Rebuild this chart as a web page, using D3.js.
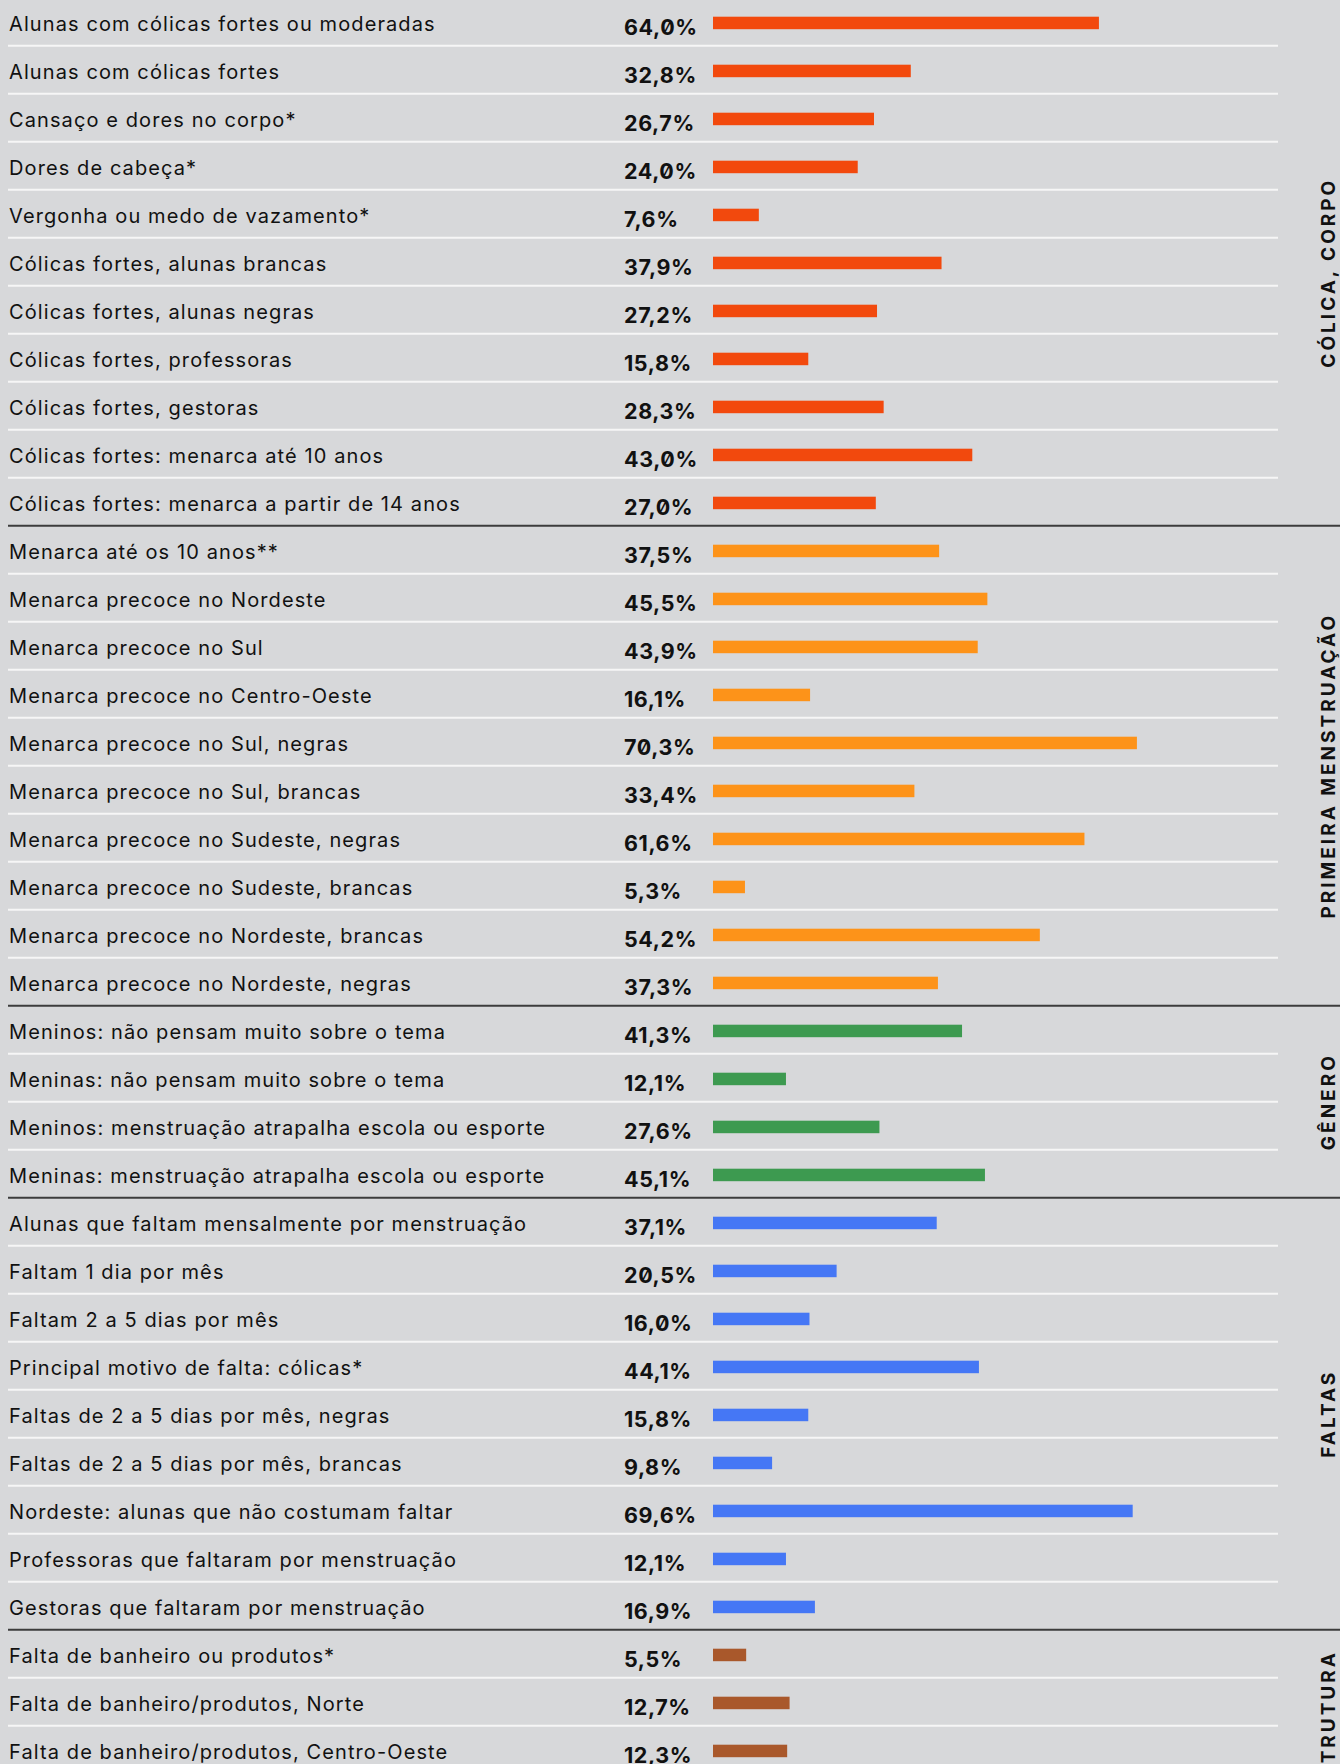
<!DOCTYPE html>
<html>
<head>
<meta charset="utf-8">
<script src="https://cdn.jsdelivr.net/npm/d3@7"></script>
<style>
  html, body { margin: 0; padding: 0; background: #d7d8da; overflow: hidden; }
  svg { display: block; }
  .label { font-family: Inter, "Noto Sans", sans-serif; font-size: 20px; fill: #111; letter-spacing: 1.1px; }
  .value { font-family: Inter, sans-serif; font-weight: 700; font-size: 21.5px; fill: #111;
           font-feature-settings: "zero" 1; letter-spacing: 0.6px; }
  .group { font-family: Inter, "Noto Sans", sans-serif; font-weight: 700; font-size: 19px;
           fill: #111; letter-spacing: 3px; }
</style>
</head>
<body>
<svg id="chart"></svg>
<script>
const groupNames = ["CÓLICA, CORPO", "PRIMEIRA MENSTRUAÇÃO", "GÊNERO", "FALTAS", "ESTRUTURA"];
const groupColors = ["#f2490d", "#fd9319", "#3d9a50", "#4577f5", "#a9582b"];

const rowLabels = [
  "Alunas com cólicas fortes ou moderadas",
  "Alunas com cólicas fortes",
  "Cansaço e dores no corpo*",
  "Dores de cabeça*",
  "Vergonha ou medo de vazamento*",
  "Cólicas fortes, alunas brancas",
  "Cólicas fortes, alunas negras",
  "Cólicas fortes, professoras",
  "Cólicas fortes, gestoras",
  "Cólicas fortes: menarca até 10 anos",
  "Cólicas fortes: menarca a partir de 14 anos",
  "Menarca até os 10 anos**",
  "Menarca precoce no Nordeste",
  "Menarca precoce no Sul",
  "Menarca precoce no Centro-Oeste",
  "Menarca precoce no Sul, negras",
  "Menarca precoce no Sul, brancas",
  "Menarca precoce no Sudeste, negras",
  "Menarca precoce no Sudeste, brancas",
  "Menarca precoce no Nordeste, brancas",
  "Menarca precoce no Nordeste, negras",
  "Meninos: não pensam muito sobre o tema",
  "Meninas: não pensam muito sobre o tema",
  "Meninos: menstruação atrapalha escola ou esporte",
  "Meninas: menstruação atrapalha escola ou esporte",
  "Alunas que faltam mensalmente por menstruação",
  "Faltam 1 dia por mês",
  "Faltam 2 a 5 dias por mês",
  "Principal motivo de falta: cólicas*",
  "Faltas de 2 a 5 dias por mês, negras",
  "Faltas de 2 a 5 dias por mês, brancas",
  "Nordeste: alunas que não costumam faltar",
  "Professoras que faltaram por menstruação",
  "Gestoras que faltaram por menstruação",
  "Falta de banheiro ou produtos*",
  "Falta de banheiro/produtos, Norte",
  "Falta de banheiro/produtos, Centro-Oeste"
];

const rowValues = [
  64.0, 32.8, 26.7, 24.0, 7.6, 37.9, 27.2, 15.8, 28.3, 43.0, 27.0,
  37.5, 45.5, 43.9, 16.1, 70.3, 33.4, 61.6, 5.3, 54.2, 37.3,
  41.3, 12.1, 27.6, 45.1,
  37.1, 20.5, 16.0, 44.1, 15.8, 9.8, 69.6, 12.1, 16.9,
  5.5, 12.7, 12.3
];

const rowGroup = [
  0, 0, 0, 0, 0, 0, 0, 0, 0, 0, 0,
  1, 1, 1, 1, 1, 1, 1, 1, 1, 1,
  2, 2, 2, 2,
  3, 3, 3, 3, 3, 3, 3, 3, 3,
  4, 4, 4
];

const width = 1340, height = 1764;
const rowH = 48, startY = -2.3;
// small vertical nudges for the side titles (first and last band run past the page edge)
const titleNudge = [11, 0, 0, 0, 20];

const svg = d3.select("#chart").attr("width", width).attr("height", height);

const rows = rowLabels.map((label, i) => ({ i, label, value: rowValues[i], group: rowGroup[i] }));

const y = d3.scaleBand()
  .domain(d3.range(rows.length))
  .range([startY, startY + rowH * rows.length])
  .paddingInner(0);

const x = d3.scaleLinear().domain([0, 100]).range([713, 1316]);

const pt = d3.formatLocale({ decimal: ",", thousands: ".", grouping: [3], currency: ["", ""] });
const fmt = v => pt.format(".1f")(v) + "%";

// row separators
svg.append("g").selectAll("line")
  .data(rows.filter(d => d.i < rows.length - 1 && rowGroup[d.i + 1] === d.group))
  .join("line")
  .attr("x1", 8).attr("x2", 1278)
  .attr("y1", d => y(d.i) + rowH).attr("y2", d => y(d.i) + rowH)
  .attr("stroke", "#f6f6f6").attr("stroke-width", 2);

// group dividers
svg.append("g").selectAll("line")
  .data(rows.filter(d => d.i < rows.length - 1 && rowGroup[d.i + 1] !== d.group))
  .join("line")
  .attr("x1", 8).attr("x2", width)
  .attr("y1", d => y(d.i) + rowH).attr("y2", d => y(d.i) + rowH)
  .attr("stroke", "#3c3c3c").attr("stroke-width", 2);

const row = svg.append("g").selectAll("g")
  .data(rows)
  .join("g")
  .attr("transform", d => `translate(0,${y(d.i)})`);

row.append("text")
  .attr("class", "label")
  .attr("x", 9).attr("y", 33)
  .text(d => d.label);

row.append("text")
  .attr("class", "value")
  .attr("x", 624).attr("y", 37)
  .text(d => fmt(d.value));

row.append("rect")
  .attr("x", x(0))
  .attr("y", 19)
  .attr("width", d => x(d.value) - x(0))
  .attr("height", 12.5)
  .attr("fill", d => groupColors[d.group]);

// group titles, vertical
svg.append("g").selectAll("text")
  .data(groupNames)
  .join("text")
  .attr("class", "group")
  .attr("text-anchor", "middle")
  .attr("transform", (name, g) => {
    const idx = rows.filter(d => d.group === g).map(d => d.i);
    const cy = (y(d3.min(idx)) + y(d3.max(idx)) + rowH) / 2 + titleNudge[g];
    return `translate(1335,${cy}) rotate(-90)`;
  })
  .text(d => d);
</script>
</body>
</html>
